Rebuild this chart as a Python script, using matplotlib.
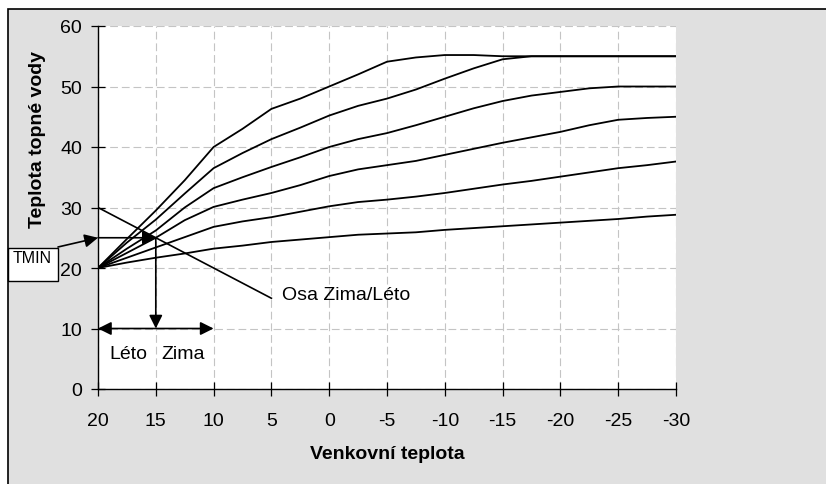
import numpy as np
import matplotlib
matplotlib.use('Agg')
from matplotlib import pyplot as plt
from matplotlib.patches import Rectangle

plt.rcParams['font.family'] = ['Liberation Sans', 'DejaVu Sans']

# venkovni teplota (osa x) a krivky teploty topne vody
venkovni = [20, 17.5, 15, 12.5, 10, 7.5, 5, 2.5, 0, -2.5, -5, -7.5, -10,
            -12.5, -15, -17.5, -20, -22.5, -25, -27.5, -30]
krivka1 = [20, 24.8, 29.5, 34.5, 40.0, 43.0, 46.3, 48.0, 50.0, 52.0, 54.1,
           54.8, 55.2, 55.2, 55.0, 55.0, 55.0, 55.0, 55.0, 55.0, 55.0]
krivka2 = [20, 24.2, 28.0, 32.3, 36.5, 39.0, 41.3, 43.2, 45.2, 46.8, 48.0,
           49.5, 51.3, 53.0, 54.5, 55.0, 55.0, 55.0, 55.0, 55.0, 55.0]
krivka3 = [20, 23.2, 26.2, 30.0, 33.2, 35.0, 36.7, 38.3, 40.0, 41.3, 42.3,
           43.6, 45.0, 46.4, 47.6, 48.5, 49.1, 49.7, 50.0, 50.0, 50.0]
krivka4 = [20, 22.5, 25.0, 27.9, 30.1, 31.3, 32.4, 33.7, 35.2, 36.3, 37.0,
           37.7, 38.7, 39.7, 40.7, 41.6, 42.5, 43.6, 44.5, 44.8, 45.0]
krivka5 = [20, 21.7, 23.4, 25.1, 26.8, 27.7, 28.4, 29.3, 30.2, 30.9, 31.3,
           31.8, 32.4, 33.1, 33.8, 34.4, 35.1, 35.8, 36.5, 37.0, 37.6]
krivka6 = [20, 20.9, 21.7, 22.4, 23.2, 23.7, 24.3, 24.7, 25.1, 25.5, 25.7,
           25.9, 26.3, 26.6, 26.9, 27.2, 27.5, 27.8, 28.1, 28.5, 28.8]
krivky = [krivka1, krivka2, krivka3, krivka4, krivka5, krivka6]

xticks = [20, 15, 10, 5, 0, -5, -10, -15, -20, -25, -30]
yticks = [0, 10, 20, 30, 40, 50, 60]

# osa zima/leto a TMIN
osa_x = [20, 5]
osa_y = [30, 15]
tmin = 25
hranice = 15

W, H = 826, 485
fig = plt.figure(figsize=(W / 100, H / 100), dpi=100)
fig.patch.set_facecolor('white')
fig.patches.append(Rectangle((8 / W, -0.1), 1.2, 1 - 10 / H + 0.1, transform=fig.transFigure,
                             facecolor='#e0e0e0', edgecolor='black', lw=1.2, zorder=-5))

ax = fig.add_axes([98 / W, 1 - 390 / H, 578 / W, 363 / H])
ax.set_facecolor('white')

for k in krivky:
    ax.plot(venkovni, k, color='black', lw=1.3, zorder=3, solid_joinstyle='round')

ax.set_xlim(20, -30)
ax.set_ylim(0, 60)
ax.set_xticks(xticks)
ax.set_yticks(yticks)
ax.set_xticklabels([str(t) for t in xticks])
ax.tick_params(direction='inout', length=10, width=0.9, labelsize=14, color='black')
ax.tick_params(axis='x', pad=11.5)
ax.tick_params(axis='y', pad=6.5)
ax.grid(True, color='#c4c4c4', lw=0.8, linestyle=(0, (7, 3.5)))
ax.set_axisbelow(True)
for s in ['top', 'right']:
    ax.spines[s].set_visible(False)
for s in ['left', 'bottom']:
    ax.spines[s].set_linewidth(1.0)

# osa zima/leto
ax.plot(osa_x, osa_y, color='black', lw=1.2, zorder=4)
ax.text(4.1, 15.6, 'Osa Zima/Léto', fontsize=14, ha='left', va='center')

ap = dict(arrowstyle='-|>', color='black', lw=1.2, shrinkA=0, shrinkB=0, mutation_scale=20)
ax.annotate('', xy=(hranice, tmin), xytext=(20, tmin), arrowprops=ap, zorder=5)
ax.annotate('', xy=(hranice, 10), xytext=(hranice, tmin), arrowprops=ap, zorder=5)
ap2 = dict(ap, arrowstyle='<|-|>')
ax.annotate('', xy=(10, 10), xytext=(20, 10), arrowprops=ap2, zorder=5)
ax.text(19.0, 5.8, 'Léto', fontsize=14, ha='left', va='center')
ax.text(14.5, 5.8, 'Zima', fontsize=14, ha='left', va='center')

# TMIN ramecek
box = Rectangle((8 / W, 1 - 282 / H), 50 / W, 33 / H, transform=fig.transFigure,
                facecolor='white', edgecolor='black', lw=1.0, zorder=6)
fig.patches.append(box)
fig.text(13 / W, 1 - 251 / H, 'TMIN', fontsize=11.5, ha='left', va='top', zorder=7)
ax.annotate('', xy=(20, tmin), xycoords='data', xytext=(58 / W, 1 - 248 / H),
            textcoords='figure fraction', arrowprops=ap, annotation_clip=False, zorder=5)

fig.text(387 / W, 1 - 455 / H, 'Venkovní teplota', fontsize=14, fontweight='bold',
         ha='center', va='center')
fig.text(38 / W, 1 - 140 / H, 'Teplota topné vody', fontsize=14, fontweight='bold',
         ha='center', va='center', rotation=90)

fig.savefig('out.png', dpi=100)
